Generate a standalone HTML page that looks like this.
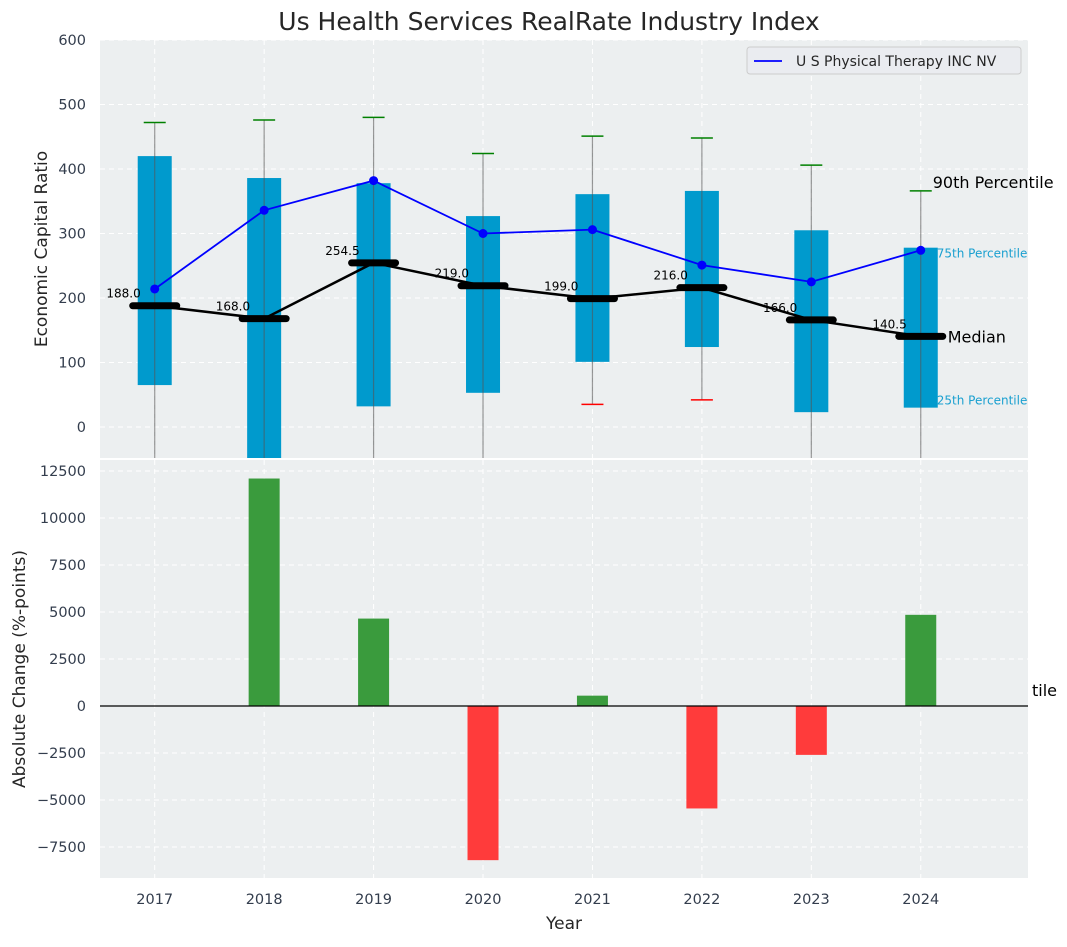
<!DOCTYPE html>
<html><head><meta charset="utf-8"><style>
body{margin:0;background:#fff;font-family:"Liberation Sans","DejaVu Sans",sans-serif}
svg text{font-family:"DejaVu Sans","Liberation Sans",sans-serif}
</style></head><body>
<svg id="c" width="1067" height="942" xmlns="http://www.w3.org/2000/svg"></svg>
<script>
const years=[2017,2018,2019,2020,2021,2022,2023,2024];
const q25=[65,-60,32,53,101,124,23,30];
const q75=[420,386,378,327,361,366,305,278];
const p90=[472,476,480,424,451,448,406,366];
const p10=[-100,-100,-100,-100,35,42,-100,-100];
const medians=[188,168,254.5,219,199,216,166,140.5];
const company=[214,336,382,300,306,251,225,274];
const changes=[0,12100,4650,-8200,550,-5450,-2600,4850];
const topTicks=[0,100,200,300,400,500,600];
const botTicks=[-7500,-5000,-2500,0,2500,5000,7500,10000,12500];

const NS="http://www.w3.org/2000/svg";
const svg=document.getElementById('c');
function el(t,a,p){const e=document.createElementNS(NS,t);for(const k in a)e.setAttribute(k,a[k]);(p||svg).appendChild(e);return e;}
const L=100,R=1028,T1=40,B1=458,T2=460,B2=878;
const x=v=>L+(v-2016.5)/(2024.98-2016.5)*(R-L);
const y1=v=>427+(0-v)*(427-40)/600;
const y2=v=>706-v*(706-471)/12500;

let r=el('rect',{x:L,y:T1,width:R-L,height:B1-T1,fill:'#eceff0'});

r=el('rect',{x:L,y:T2,width:R-L,height:B2-T2,fill:'#eceff0'});


const clip1=el('clipPath',{id:'k1'});el('rect',{x:L,y:T1,width:R-L,height:B1-T1},clip1);
const clip2=el('clipPath',{id:'k2'});el('rect',{x:L,y:T2,width:R-L,height:B2-T2},clip2);
const g1=el('g',{'clip-path':'url(#k1)'});

const g2=el('g',{'clip-path':'url(#k2)'});


topTicks.forEach(t=>{el('line',{x1:L,x2:R,y1:y1(t),y2:y1(t),stroke:'#fff','stroke-dasharray':'5,4','stroke-width':1},g1);
 const tx=el('text',{x:L-14,y:y1(t)+5,'text-anchor':'end','font-size':14.5,fill:'#333d4d'});tx.textContent=t;
 });
botTicks.forEach(t=>{el('line',{x1:L,x2:R,y1:y2(t),y2:y2(t),stroke:'#fff','stroke-dasharray':'5,4','stroke-width':1},g2);
 const tx=el('text',{x:L-14,y:y2(t)+5,'text-anchor':'end','font-size':14.5,fill:'#333d4d'});tx.textContent=t.toString().replace('-','−');
 });
years.forEach(yr=>{[g1,g2].forEach((g,i)=>el('line',{x1:x(yr),x2:x(yr),y1:i?T2:T1,y2:i?B2:B1,stroke:'#fff','stroke-dasharray':'5,4'},g));
 const tx=el('text',{x:x(yr),y:904,'text-anchor':'middle','font-size':14.5,fill:'#333d4d'});tx.textContent=yr;
 });

const bw=34;
years.forEach((yr,i)=>{
 const cx=x(yr);
 const b=el('rect',{x:cx-bw/2,y:y1(q75[i]),width:bw,height:y1(q25[i])-y1(q75[i]),fill:'#009acd'},g1);
 
 el('line',{x1:cx,x2:cx,y1:y1(p90[i]),y2:y1(p10[i]),stroke:'#555','stroke-opacity':0.6,'stroke-width':1.2},g1);
 el('line',{x1:cx-11,x2:cx+11,y1:y1(p90[i]),y2:y1(p90[i]),stroke:'green','stroke-width':1.5},g1);
 if(p10[i]>-48)el('line',{x1:cx-11,x2:cx+11,y1:y1(p10[i]),y2:y1(p10[i]),stroke:'red','stroke-width':1.5},g1);
});
let pts=years.map((yr,i)=>x(yr)+','+y1(medians[i])).join(' ');
let pl=el('polyline',{points:pts,fill:'none',stroke:'#000','stroke-width':2.5},g1);

years.forEach((yr,i)=>{const cx=x(yr),cy=y1(medians[i]);
 const m=el('line',{x1:cx-22,x2:cx+22,y1:cy,y2:cy,stroke:'#000','stroke-width':7,'stroke-linecap':'round'},g1);
 
 const t=el('text',{x:cx-14,y:cy-8,'text-anchor':'end','font-size':12,fill:'#000'},g1);t.textContent=medians[i].toFixed(1);
 });
pts=years.map((yr,i)=>x(yr)+','+y1(company[i])).join(' ');
pl=el('polyline',{points:pts,fill:'none',stroke:'#0000ff','stroke-width':1.8},g1);

years.forEach((yr,i)=>{const c=el('circle',{cx:x(yr),cy:y1(company[i]),r:4.5,fill:'#0000ff'},g1);
 });

const last=years.length-1, lx=x(years[last]);
[['90th Percentile',lx+12,y1(p90[last])-3,16,'#000'],['75th Percentile',lx+16,y1(q75[last])+10,12,'#1aa0d0'],['Median',lx+27,y1(medians[last])+6,16,'#000'],['25th Percentile',lx+16,y1(q25[last])-3,12,'#1aa0d0']].forEach(a=>{
 const t=el('text',{x:a[1],y:a[2],'font-size':a[3],fill:a[4]});t.textContent=a[0];
 });
let tt=el('text',{x:1057,y:696,'text-anchor':'end','font-size':16,fill:'#000'});tt.textContent='tile';


years.forEach((yr,i)=>{const v=changes[i];if(!v)return;
 const b=el('rect',{x:x(yr)-15.5,y:Math.min(y2(v),y2(0)),width:31,height:Math.abs(y2(v)-y2(0)),fill:v>0?'#3a9b3d':'#ff3b3b'},g2);
 });
el('line',{x1:L,x2:R,y1:y2(0),y2:y2(0),stroke:'#000','stroke-width':1.2},g2);

const lg=el('g',{});
el('rect',{x:747,y:47,width:274,height:27,rx:3,fill:'#eaecf0',stroke:'#ccc'},lg);
el('line',{x1:754,x2:782,y1:61,y2:61,stroke:'#0000ff','stroke-width':1.8},lg);
let t=el('text',{x:796,y:66,'font-size':14,fill:'#262626'},lg);t.textContent='U S Physical Therapy INC NV';

t=el('text',{x:549,y:30,'text-anchor':'middle','font-size':25,fill:'#262626'});t.textContent='Us Health Services RealRate Industry Index';

t=el('text',{x:0,y:0,'text-anchor':'middle','font-size':17,fill:'#262626',transform:'translate(47,249) rotate(-90)'});t.textContent='Economic Capital Ratio';

t=el('text',{x:0,y:0,'text-anchor':'middle','font-size':17,fill:'#262626',transform:'translate(25,669) rotate(-90)'});t.textContent='Absolute Change (%-points)';

t=el('text',{x:564,y:929,'text-anchor':'middle','font-size':17,fill:'#262626'});t.textContent='Year';

</script>
</body></html>
